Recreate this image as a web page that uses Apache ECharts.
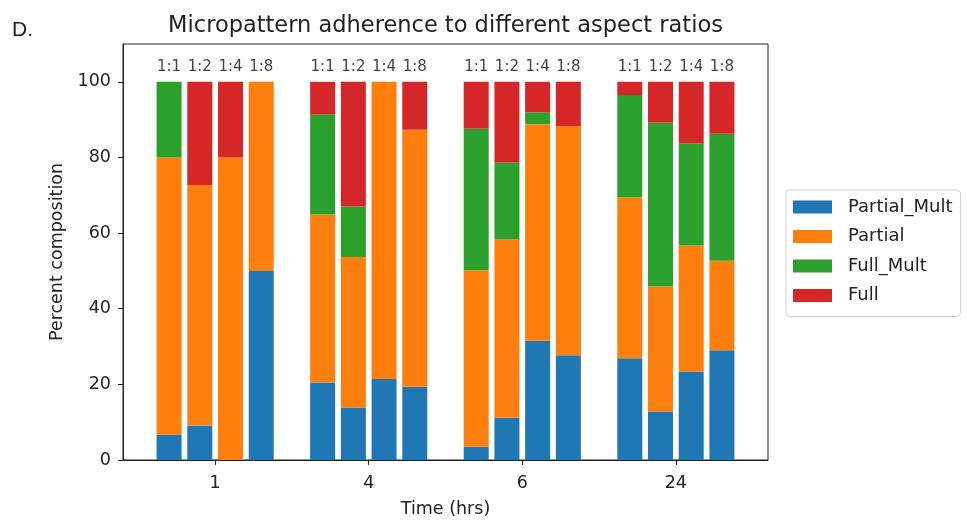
<!DOCTYPE html>
<html>
<head>
<meta charset="utf-8">
<script src="https://cdn.jsdelivr.net/npm/echarts@6/dist/echarts.min.js"></script>
<style>
  html, body { margin: 0; padding: 0; background: #fff; }
  #chart { width: 967px; height: 523px; }
</style>
</head>
<body>
<div id="chart"></div>
<script>
// Time points (x-axis tick labels) and aspect ratios within each time point
const timeLabels = ['1', '4', '6', '24'];
const ratioLabels = ['1:1', '1:2', '1:4', '1:8'];
// y-axis tick values
const percentTicks = [0, 20, 40, 60, 80, 100];

// Percent composition per bar, ordered time-major then ratio (1:1, 1:2, 1:4, 1:8)
const partialMult = [6.7, 9.1, 0, 50,   20.5, 13.9, 21.4, 19.4,  3.5, 11.2, 31.5, 27.7,  26.9, 12.8, 23.4, 29.0];
const partial     = [73.3, 63.6, 80, 50, 44.4, 39.8, 78.6, 67.9,  46.7, 47.1, 57.3, 60.6, 42.6, 33.1, 33.3, 23.7];
const fullMult    = [20, 0, 0, 0,       26.5, 13.3, 0, 0,        37.4, 20.3, 3.1, 0,      27.0, 43.3, 27.0, 33.6];
const full        = [0, 27.3, 20, 0,    8.6, 33.0, 0, 12.7,      12.4, 21.4, 8.1, 11.7,   3.5, 10.8, 16.3, 13.7];

const seriesNames = ['Partial_Mult', 'Partial', 'Full_Mult', 'Full'];
const seriesValues = [partialMult, partial, fullMult, full];
const colors = ['#1f77b4', '#ff7f0e', '#2ca02c', '#d62728'];

const FONT = 'DejaVu Sans';
const TEXT = '#222';

// Bar slots: one empty slot at each end and one between time groups,
// so each group of four bars is centred on its integer time index.
const nRatio = ratioLabels.length;
const groupSlots = nRatio + 1;
const nSlots = timeLabels.length * groupSlots + 1;
const slotNames = Array.from({ length: nSlots }, (_, k) => 's' + k);
function slotOf(i) {
  return 1 + Math.floor(i / nRatio) * groupSlots + (i % nRatio);
}
function toSlots(values) {
  const out = new Array(nSlots).fill(null);
  values.forEach((v, i) => { out[slotOf(i)] = v; });
  return out;
}
// Value range of the time axis in group units (slot width = 1 / groupSlots)
const halfSpan = (nSlots / groupSlots) / 2;
const xMin = (timeLabels.length - 1) / 2 - halfSpan;
const xMax = (timeLabels.length - 1) / 2 + halfSpan;
const timeTickValues = timeLabels.map((_, g) => g);

const barSeries = seriesNames.map((name, s) => ({
  name: name,
  type: 'bar',
  stack: 'total',
  barWidth: 25,
  xAxisIndex: 0,
  itemStyle: { color: colors[s] },
  emphasis: { disabled: true },
  data: toSlots(seriesValues[s])
}));

// Ratio labels placed above the top of each stacked bar
const totals = partialMult.map((_, i) => seriesValues.reduce((acc, arr) => acc + arr[i], 0));
const ratioLabelSeries = {
  type: 'scatter',
  xAxisIndex: 0,
  symbolSize: 0,
  silent: true,
  label: {
    show: true,
    position: 'top',
    distance: 7,
    fontFamily: FONT,
    fontSize: 15,
    color: '#111',
    formatter: p => ratioLabels[p.value[2]]
  },
  data: totals.map((t, i) => [slotNames[slotOf(i)], t, i % nRatio])
};

const chart = echarts.init(document.getElementById('chart'), null, { renderer: 'canvas' });

const gridLeft = 123, gridRight = 199, gridTop = 44, gridBottom = 63;
const plotCenterX = gridLeft + (967 - gridLeft - gridRight) / 2;

chart.setOption({
  animation: false,
  backgroundColor: '#fff',
  textStyle: { fontFamily: FONT },
  graphic: [
    {
      type: 'text',
      left: 12,
      top: 20,
      style: { text: 'D.', fontFamily: 'Liberation Sans', fontSize: 21, fill: TEXT }
    },
    {
      type: 'text',
      x: plotCenterX,
      y: 26,
      style: {
        text: 'Micropattern adherence to different aspect ratios',
        fontFamily: FONT,
        fontSize: 22.5,
        fill: TEXT,
        align: 'center',
        verticalAlign: 'middle'
      }
    }
  ],
  legend: {
    orient: 'vertical',
    left: 786,
    top: 190,
    data: seriesNames,
    icon: 'rect',
    itemWidth: 39,
    itemHeight: 13,
    itemGap: 11.5,
    padding: [8, 8, 12, 7],
    borderColor: '#d0d0d0',
    borderWidth: 1,
    borderRadius: 4,
    backgroundColor: '#fff',
    selectedMode: false,
    textStyle: { fontFamily: FONT, fontSize: 18, color: TEXT, padding: [0, 0, 0, 11] }
  },
  grid: {
    left: gridLeft,
    right: gridRight,
    top: gridTop,
    bottom: gridBottom,
    show: true,
    borderColor: TEXT,
    borderWidth: 1,
    containLabel: false
  },
  xAxis: [
    {
      // slot axis carrying the bars (not drawn)
      type: 'category',
      data: slotNames,
      boundaryGap: true,
      show: false
    },
    {
      // time axis drawn with ticks at group centres
      type: 'value',
      position: 'bottom',
      min: xMin,
      max: xMax,
      name: 'Time (hrs)',
      nameLocation: 'middle',
      nameGap: 40,
      nameTextStyle: { fontFamily: FONT, fontSize: 17.5, color: TEXT },
      axisLine: { show: true, onZero: false, lineStyle: { color: TEXT, width: 1 } },
      axisTick: { show: true, length: 5, lineStyle: { color: TEXT }, customValues: timeTickValues },
      axisLabel: {
        fontFamily: FONT, fontSize: 17.5, color: TEXT, margin: 14,
        customValues: timeTickValues,
        formatter: v => timeLabels[Math.round(v)]
      },
      splitLine: { show: false }
    }
  ],
  yAxis: {
    type: 'value',
    min: 0,
    max: 110,
    name: 'Percent composition',
    nameLocation: 'middle',
    nameGap: 57,
    nameTextStyle: { fontFamily: FONT, fontSize: 17.5, color: TEXT },
    axisLine: { show: true, onZero: false, lineStyle: { color: TEXT, width: 1 } },
    axisTick: { show: true, length: 5, lineStyle: { color: TEXT }, customValues: percentTicks },
    axisLabel: {
      fontFamily: FONT, fontSize: 17.5, color: TEXT, margin: 12,
      customValues: percentTicks
    },
    splitLine: { show: false }
  },
  series: barSeries.concat([ratioLabelSeries])
});
</script>
</body>
</html>
